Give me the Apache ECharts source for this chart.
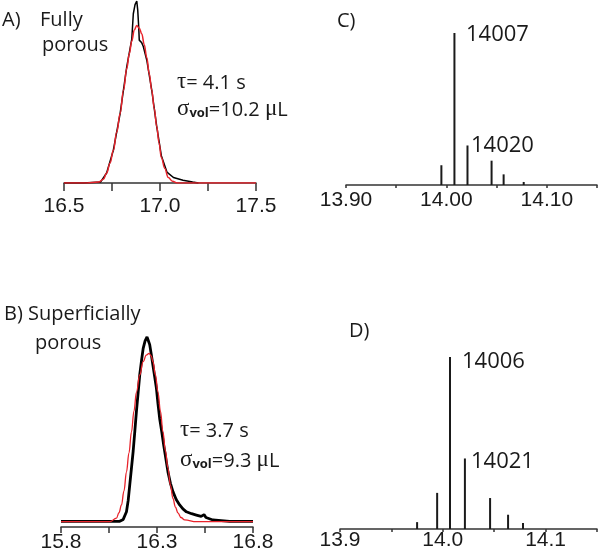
<!DOCTYPE html>
<html>
<head>
<meta charset="utf-8">
<script src="https://cdn.jsdelivr.net/npm/echarts@6/dist/echarts.min.js"></script>
<style>
  html, body { margin: 0; padding: 0; background: #fff; }
  #chart { width: 600px; height: 557px; }
</style>
</head>
<body>
<div id="chart"></div>
<script>
// Panel A: fully porous peak (black = measured, red = fit)
const aBlack = [[16.5,0],[16.6,0],[16.69,0.5],[16.722,5.5],[16.757,18],[16.792,38],[16.827,64],[16.853,79],
  [16.861,93],[16.87,98],[16.879,100],[16.884,95],[16.889,86],[16.892,78.5],[16.905,77],[16.913,75],[16.931,67.6],
  [16.957,51],[16.983,31],[17.007,15],[17.036,6],[17.07,3],[17.12,1.5],[17.17,0.5],[17.2,0]];
const aRed = [[16.5,0],[16.62,0],[16.68,0.5],[16.705,2],[16.722,5.5],[16.74,11],[16.757,18],[16.775,28],[16.792,38],
  [16.81,51],[16.827,63],[16.84,71],[16.853,78],[16.866,84],[16.879,86.5],[16.892,85],[16.905,82],[16.918,76],
  [16.931,69],[16.944,60],[16.957,51],[16.97,41],[16.983,31],[16.995,22],[17.007,14],[17.025,8],[17.043,3],
  [17.065,1],[17.09,0],[17.5,0]];

// Panel B: superficially porous peak
const bBlack = [[15.8,3],[16.0,3],[16.106,3],[16.124,4],[16.141,8],[16.15,14],[16.158,22],[16.167,31],[16.176,40],
  [16.185,51],[16.193,61],[16.202,71],[16.21,80],[16.22,88],[16.228,94],[16.238,98],[16.248,100],[16.255,98],
  [16.262,96],[16.27,91],[16.279,85],[16.288,79],[16.297,73],[16.305,65],[16.314,57],[16.325,50],[16.335,43],
  [16.346,36],[16.357,29],[16.37,23],[16.383,18.6],[16.4,14.5],[16.418,11.6],[16.435,9.5],[16.453,8],[16.48,7],
  [16.505,6.3],[16.53,5.6],[16.545,6.5],[16.555,5],[16.591,3.7],[16.678,3],[16.8,3]];
const bRed = [[15.8,2.8],[16.055,2.8],[16.089,4.7],[16.102,7.5],[16.115,11.6],[16.128,19],[16.141,29],[16.154,39],
  [16.167,50],[16.18,61],[16.193,71],[16.21,80],[16.228,87],[16.244,90.5],[16.259,91.4],[16.27,90],[16.279,87],
  [16.292,80],[16.305,71],[16.318,61],[16.331,50],[16.344,40],[16.357,31],[16.37,22],[16.383,15],[16.396,10.5],
  [16.409,7.4],[16.425,5],[16.444,3.7],[16.505,2.8],[16.8,2.8]];

// Panels C and D: mass spectra sticks
const cPeakX = [13.995, 14.008, 14.021, 14.045, 14.057, 14.077];
const cPeakY = [13, 100, 26, 16, 7, 2];
const dPeakX = [13.975, 13.9945, 14.007, 14.0215, 14.046, 14.0635, 14.078];
const dPeakY = [4, 21, 100, 41, 18, 8.3, 3.5];

// tick labels that are shown
const aTicks = ['16.5', '17.0', '17.5'];
const bTicks = ['15.8', '16.3', '16.8'];
const cTicks = ['13.90', '14.00', '14.10'];
const dTicks = ['13.9', '14.0', '14.1'];

const ink = '#1a1a1a';
const red = '#e8232b';
const tickFont = 'Liberation Sans';
const textFont = 'Open Sans';

function pickLabel(list) {
    return function (v) {
        const hit = list.find(t => Math.abs(parseFloat(t) - v) < 1e-6);
        return hit || '';
    };
}

function xAxisFor(grid, min, max, interval, labels, tickLen, margin) {
    return {
        type: 'value', gridIndex: grid, min: min, max: max, interval: interval,
        axisLine: { lineStyle: { color: '#333', width: 1.5 } },
        axisTick: { show: true, length: tickLen, lineStyle: { color: '#333', width: 1.5 } },
        splitLine: { show: false },
        axisLabel: {
            formatter: pickLabel(labels), color: ink, fontFamily: tickFont, fontSize: 21,
            margin: margin, showMinLabel: true, showMaxLabel: true, hideOverlap: false
        }
    };
}

function yAxisFor(grid) {
    return { type: 'value', gridIndex: grid, min: 0, max: 100, show: false };
}

const cData = cPeakX.map((x, i) => [x, cPeakY[i]]);
const dData = dPeakX.map((x, i) => [x, dPeakY[i]]);

// text helpers
function txt(x, y, text, size) {
    return {
        type: 'text', x: x, y: y, silent: true,
        style: { text: text, fill: ink, font: (size || 20) + 'px "' + textFont + '"', align: 'left', verticalAlign: 'middle' }
    };
}
function richTxt(x, y, text) {
    return {
        type: 'text', x: x, y: y, silent: true,
        style: {
            text: text, fill: ink, align: 'left', verticalAlign: 'middle',
            rich: {
                g: { fontFamily: 'Liberation Serif', fontSize: 23, fill: ink, verticalAlign: 'bottom', lineHeight: 22 },
                t: { fontFamily: textFont, fontSize: 20, fill: ink, verticalAlign: 'bottom', lineHeight: 22 },
                s: { fontFamily: textFont, fontSize: 13, fontWeight: 'bold', fill: ink, verticalAlign: 'bottom', lineHeight: 14 }
            }
        }
    };
}

const chart = echarts.init(document.getElementById('chart'), null, { renderer: 'canvas' });

const option = {
    backgroundColor: '#fff',
    animation: false,
    grid: [
        { left: 64, top: 1, width: 192, height: 182 },
        { left: 61, top: 337, width: 192, height: 190 },
        { left: 346, top: 33, width: 252, height: 152 },
        { left: 340, top: 357, width: 258, height: 172 }
    ],
    xAxis: [
        xAxisFor(0, 16.5, 17.5, 0.25, aTicks, 8, 13),
        xAxisFor(1, 15.8, 16.8, 0.25, bTicks, 6, 5),
        xAxisFor(2, 13.9, 14.15, 0.05, cTicks, 3, 5),
        xAxisFor(3, 13.9, 14.15, 0.05, dTicks, 3, 1)
    ],
    yAxis: [yAxisFor(0), yAxisFor(1), yAxisFor(2), yAxisFor(3)],
    series: [
        { type: 'line', xAxisIndex: 0, yAxisIndex: 0, data: aBlack, showSymbol: false,
          lineStyle: { color: '#000', width: 1.5 } },
        { type: 'line', xAxisIndex: 0, yAxisIndex: 0, data: aRed, showSymbol: false, smooth: 0.4, smoothMonotone: 'x',
          lineStyle: { color: red, width: 1.5 } },
        { type: 'line', xAxisIndex: 1, yAxisIndex: 1, data: bBlack, showSymbol: false,
          lineStyle: { color: '#000', width: 2.8 } },
        { type: 'line', xAxisIndex: 1, yAxisIndex: 1, data: bRed, showSymbol: false, smooth: 0.4, smoothMonotone: 'x',
          lineStyle: { color: red, width: 1.3 } },
        { type: 'bar', xAxisIndex: 2, yAxisIndex: 2, data: cData, barWidth: 2,
          itemStyle: { color: ink } },
        { type: 'bar', xAxisIndex: 3, yAxisIndex: 3, data: dData, barWidth: 2,
          itemStyle: { color: ink } }
    ],
    graphic: [
        txt(2, 20, 'A)'),
        txt(40, 20, 'Fully'),
        txt(42, 45, 'porous'),
        richTxt(177, 82, '{g|τ}{t|= 4.1 s}'),
        richTxt(177, 109, '{g|σ}{s|vol}{t|=10.2 }{g|μ}{t|L}'),
        txt(4, 314, 'B) Superficially'),
        txt(35, 343, 'porous'),
        richTxt(180, 430, '{g|τ}{t|= 3.7 s}'),
        richTxt(180, 460, '{g|σ}{s|vol}{t|=9.3 }{g|μ}{t|L}'),
        txt(337, 21, 'C)'),
        txt(466, 35, '14007', 22),
        txt(471, 146, '14020', 22),
        txt(349, 331, 'D)'),
        txt(462, 362, '14006', 22),
        txt(471, 462, '14021', 22)
    ]
};

chart.setOption(option);
</script>
</body>
</html>
